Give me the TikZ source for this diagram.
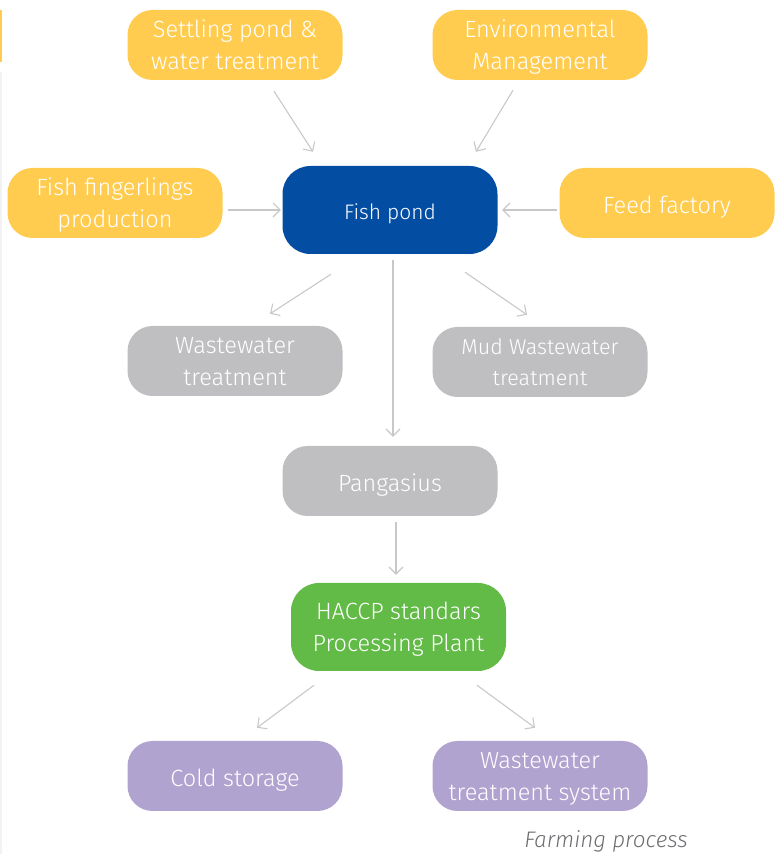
\documentclass[tikz,border=0pt]{standalone}
\usepackage{fontspec}
\setmainfont{Fira Sans Light}
\usetikzlibrary{arrows.meta}
\definecolor{pondyellow}{HTML}{FFCC4F}
\definecolor{pondblue}{HTML}{034EA2}
\definecolor{pondgray}{HTML}{BFBFC1}
\definecolor{pondgreen}{HTML}{62BB46}
\definecolor{pondpurple}{HTML}{B1A3CF}
\definecolor{arrowgray}{HTML}{C8C8C8}
\definecolor{captiongray}{HTML}{6D6E71}
\tikzset{
  box/.style={rounded corners=25pt, minimum width=215pt, minimum height=70pt,
    text=white, align=center, inner sep=0pt, text depth=0pt,
    execute at begin node={\rule{0pt}{0.9em}},
    font=\fontsize{23.5}{32}\selectfont},
  ybox/.style={box, fill=pondyellow},
  gbox/.style={box, fill=pondgray},
  pbox/.style={box, fill=pondpurple},
  flow/.style={draw=arrowgray, line width=1.1pt,
    -{Straight Barb[length=7pt,width=14pt]}}
}
\begin{document}
\begin{tikzpicture}[x=1pt, y=1pt]
	 \useasboundingbox (0,0) rectangle (780,854);
	 % side marks
	 \fill[pondyellow] (0,792) rectangle (2,844);
	 \fill[black!5] (0,0) rectangle (2,782);
	 % inputs
	 \node[ybox] (settle) at (235,809) {Settling pond \&\\water treatment};
	 \node[ybox] (envmgmt) at (540,809) {Environmental\\Management};
	 \node[ybox] (finger) at (115,651) {Fish fingerlings\\production};
	 \node[ybox] (feed) at (667,651) {Feed factory};
	 \node[box, fill=pondblue, minimum height=88pt, rounded corners=28pt,
	   font=\fontsize{21}{26}\selectfont] (pond) at (390,644) {Fish pond};
	 % outputs
	 \node[gbox] (wwater) at (235,493) {Wastewater\\treatment};
	 \node[gbox, font=\fontsize{21.5}{31}\selectfont] (mudww) at (540,492) {Mud Wastewater\\treatment};
	 \node[gbox] (pang) at (390,373) {Pangasius};
	 \node[box, fill=pondgreen, minimum height=88pt, rounded corners=28pt] (haccp) at (398.5,227) {HACCP standars\\Processing Plant};
	 \node[pbox] (cold) at (235,78) {Cold storage};
	 \node[pbox] (wwsys) at (540,78) {Wastewater\\treatment system};
	 \node[text=captiongray, font=\fontsize{22.5}{25}\selectfont\itshape] (caption) at (606,13) {Farming process};
	 % arrows
	 \draw[flow] ([shift={(39,-11)}]settle.south) -- ([shift={(-77,14)}]pond.north);
	 \draw[flow] ([shift={(-27,-10)}]envmgmt.south) -- ([shift={(86,14)}]pond.north);
	 \draw[flow] ([shift={(5,-7)}]finger.east) -- ([shift={(-1.5,0)}]pond.west);
	 \draw[flow] ([shift={(-2.5,-7)}]feed.west) -- ([shift={(4.5,0)}]pond.east);
	 \draw[flow] ([shift={(-59,-20)}]pond.south) -- ([shift={(35,12)}]wwater.north);
	 \draw[flow] ([shift={(75,-18)}]pond.south) -- ([shift={(-13,12)}]mudww.north);
	 \draw[flow] ([shift={(3,-6)}]pond.south) -- ([shift={(3,9)}]pang.north);
	 \draw[flow] ([shift={(6,-6)}]pang.south) -- ([shift={(-2.5,8)}]haccp.north);
	 \draw[flow] ([shift={(-84.5,-14)}]haccp.south) -- ([shift={(22,13)}]cold.north);
	 \draw[flow] ([shift={(78.5,-14)}]haccp.south) -- ([shift={(-5,13)}]wwsys.north);
      \end{tikzpicture}
\end{document}
